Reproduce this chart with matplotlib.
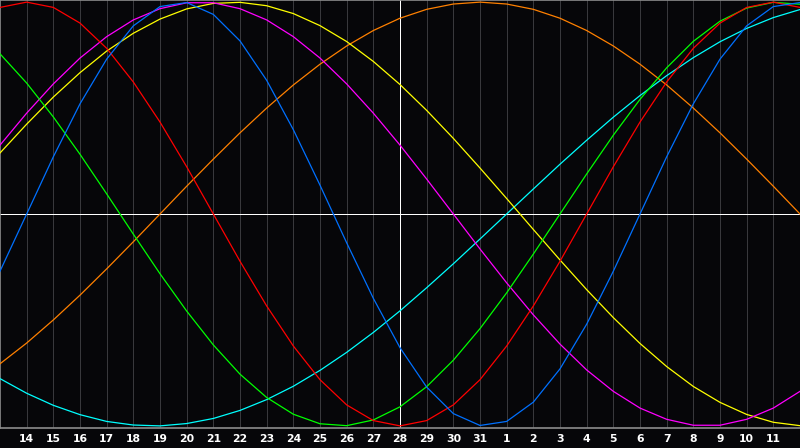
import matplotlib
matplotlib.use("Agg")
import matplotlib.pyplot as plt

# Day labels along the bottom (at day index 1..29)
day_labels = ["14", "15", "16", "17", "18", "19", "20", "21", "22", "23", "24",
              "25", "26", "27", "28", "29", "30", "31", "1", "2", "3", "4", "5",
              "6", "7", "8", "9", "10", "11"]

# Daily cycle values, day index 0..30
red = [0.975, 1.0, 0.975, 0.901, 0.782, 0.623, 0.434, 0.223, 0.0, -0.223, -0.434,
       -0.623, -0.782, -0.901, -0.975, -1.0, -0.975, -0.901, -0.782, -0.623, -0.434,
       -0.223, 0.0, 0.223, 0.434, 0.623, 0.782, 0.901, 0.975, 1.0, 0.975]
blue = [-0.270, 0.0, 0.270, 0.520, 0.731, 0.888, 0.979, 0.998, 0.942, 0.817, 0.631,
        0.398, 0.136, -0.136, -0.398, -0.631, -0.817, -0.942, -0.998, -0.979, -0.888,
        -0.731, -0.520, -0.270, 0.0, 0.270, 0.520, 0.731, 0.888, 0.979, 0.998]
green = [0.756, 0.618, 0.458, 0.282, 0.095, -0.095, -0.282, -0.458, -0.618, -0.756,
         -0.866, -0.945, -0.990, -0.999, -0.972, -0.910, -0.815, -0.690, -0.541,
         -0.372, -0.189, 0.0, 0.189, 0.372, 0.541, 0.690, 0.815, 0.910, 0.972, 0.999, 0.990]
magenta = [0.325, 0.476, 0.614, 0.736, 0.837, 0.916, 0.969, 0.997, 0.997, 0.969, 0.916,
           0.837, 0.736, 0.614, 0.476, 0.325, 0.165, 0.0, -0.165, -0.325, -0.476,
           -0.614, -0.736, -0.837, -0.916, -0.969, -0.997, -0.997, -0.969, -0.916, -0.837]
yellow = [0.288, 0.424, 0.552, 0.667, 0.769, 0.853, 0.920, 0.968, 0.994, 0.999, 0.983,
          0.946, 0.889, 0.814, 0.720, 0.611, 0.489, 0.357, 0.217, 0.073, -0.073,
          -0.217, -0.357, -0.489, -0.611, -0.720, -0.814, -0.889, -0.946, -0.983, -0.999]
orange = [-0.707, -0.609, -0.5, -0.383, -0.259, -0.131, 0.0, 0.131, 0.259, 0.383, 0.5,
          0.609, 0.707, 0.793, 0.866, 0.924, 0.966, 0.991, 1.0, 0.991, 0.966, 0.924,
          0.866, 0.793, 0.707, 0.609, 0.5, 0.383, 0.259, 0.131, 0.0]
cyan = [-0.777, -0.846, -0.903, -0.947, -0.979, -0.996, -1.0, -0.989, -0.965, -0.927,
        -0.876, -0.813, -0.738, -0.653, -0.559, -0.457, -0.348, -0.235, -0.118, 0.0,
        0.118, 0.235, 0.348, 0.457, 0.559, 0.653, 0.738, 0.813, 0.876, 0.927, 0.965]

series = [
    (orange, "#ff8000"),
    (cyan, "#00ffff"),
    (yellow, "#ffff00"),
    (magenta, "#ff00ff"),
    (green, "#00ff00"),
    (red, "#ff0000"),
    (blue, "#0070ff"),
]

BG = "#060609"
W, H = 800, 448
fig = plt.figure(figsize=(W / 100, H / 100), dpi=100, facecolor=BG)
ax = fig.add_axes([0, 20 / H, 1, 428 / H])
ax.set_facecolor(BG)

days = list(range(len(red)))
ax.set_xlim(0, len(red) - 1)
ax.set_ylim(-1.01, 1.01)

center = 15
for d in range(1, len(day_labels) + 1):
    if d == center:
        continue
    ax.axvline(d, color="#38383c", lw=0.72, antialiased=False, zorder=1)

ax.axhline(0, color="white", lw=0.72, antialiased=False, zorder=2)
ax.axvline(center, color="white", lw=0.72, antialiased=False, zorder=2)

for vals, col in series:
    ax.plot(days, vals, color=col, lw=0.9, antialiased=True, zorder=3,
            solid_joinstyle="round")

for s in ["top", "left", "bottom"]:
    ax.spines[s].set_color("#8c8c8c")
    ax.spines[s].set_linewidth(1.2)
ax.spines["right"].set_visible(False)

ax.set_xticks(range(1, len(day_labels) + 1))
ax.set_xticklabels(day_labels, color="white", fontsize=7.8, fontweight="bold",
                   family="DejaVu Sans")
ax.tick_params(axis="x", length=0, pad=4)
ax.set_yticks([])

fig.savefig("out.png", dpi=100, facecolor=BG)
